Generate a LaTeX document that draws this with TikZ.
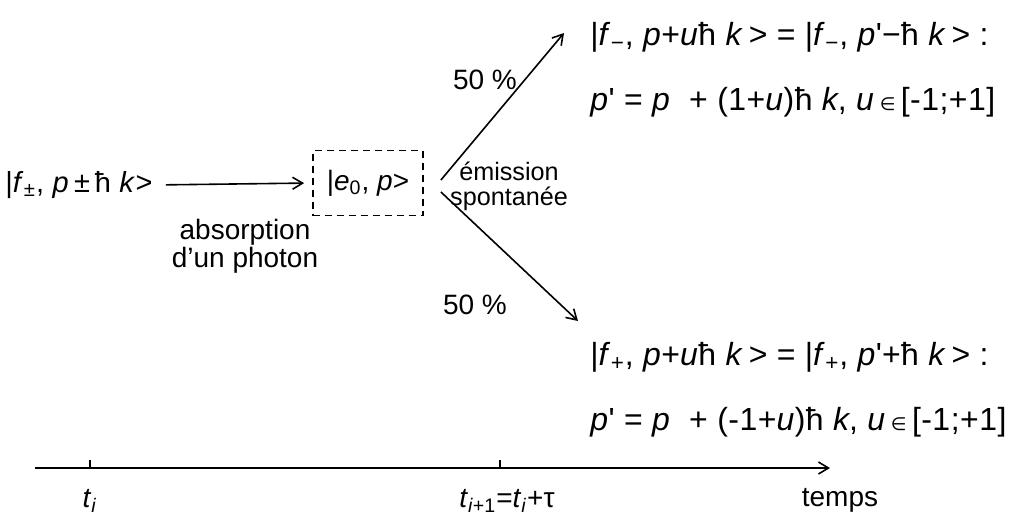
\documentclass[tikz,border=0pt]{standalone}
\usepackage{fontspec}
\setmainfont{Liberation Sans}
\newfontfamily\formfont{Liberation Sans}[LetterSpace=1.5]
\newfontfamily\symbfont{DejaVu Sans}
\usetikzlibrary{arrows.meta, positioning}
\newcommand{\vi}[1]{\textit{#1}}
\newcommand{\elem}{{\symbfont\small ∈}}
\newcommand{\prm}{\textquotesingle}

\begin{document}
\begin{tikzpicture}[
    x=0.5pt, y=-0.5pt,
    >={Straight Barb[length=5pt, width=6pt]},
    font=\fontsize{14}{14}\selectfont,
    lbl/.style={inner sep=0pt, anchor=west, font=\fontsize{16}{16}\formfont},
    note/.style={inner sep=0pt, align=center},
    link/.style={->, line width=0.8pt},
    statebox/.style={draw, dashed, dash pattern=on 3.5pt off 2.5pt, line width=0.9pt,
                     minimum width=55pt, minimum height=32.5pt, inner sep=0pt},
]
\useasboundingbox (0,0) rectangle (1016,520);

% absorption
\node[lbl, font=\fontsize{14.5}{14.5}\formfont] (init) at (5,185)
  {|\vi{f}\textsubscript{±}, \vi{p}\,±\,ħ \vi{k}>};
\node[statebox] (exc) at (368,183) {|\vi{e}\textsubscript{0}, \vi{p}>};
\draw[link, shorten <=6.5pt, shorten >=4pt] (init.east) -- (exc.west);
\node[note] (absorb) at (245,246) {absorption\\d'un photon};

% spontaneous emission, two branches
\node[note, font=\fontsize{12.6}{12.6}\selectfont] (emis) at (509,186) {émission\\spontanée};
\node[lbl] (up1) at (590,37)
  {|\vi{f}\textsubscript{−}, \vi{p}+\vi{u}ħ \vi{k}\,> = |\vi{f}\textsubscript{−}, \vi{p}\prm−ħ \vi{k}\,> :};
\node[lbl] (up2) at (590,102)
  {\vi{p}\prm{} = \vi{p}~ + (1+\vi{u})ħ \vi{k}, \vi{u}\,\elem\,[-1;+1]};
\node[lbl] (dn1) at (590,357)
  {|\vi{f}\textsubscript{+}, \vi{p}+\vi{u}ħ \vi{k}\,> = |\vi{f}\textsubscript{+}, \vi{p}\prm+ħ \vi{k}\,> :};
\node[lbl] (dn2) at (590,422)
  {\vi{p}\prm{} = \vi{p}~ + (-1+\vi{u})ħ \vi{k}, \vi{u}\,\elem\,[-1;+1]};
\node[note] (pup) at (485,80) {50 \%};
\node[note] (pdn) at (475,305) {50 \%};
\draw[link] ([xshift=8.5pt, yshift=1.5pt]exc.east) -- ([xshift=-13pt, yshift=2pt]up1.west);
\draw[link] ([xshift=8.5pt, yshift=-4.5pt]exc.east) -- ([xshift=-6pt, yshift=18pt]dn1.west);

% time axis
\coordinate (tstart) at (35,468);
\coordinate (tend) at (830,468);
\draw[link] (tstart) -- (tend);
\draw[line width=0.6pt] (90,468) -- (90,460);
\draw[line width=0.6pt] (500,468) -- (500,460);
\node[note] (ti) at (90,501) {\vi{t}\textsubscript{\vi{i}}};
\node[note] (tnext) at (507,501) {\vi{t}\textsubscript{\vi{i}+1}=\vi{t}\textsubscript{\vi{i}}+τ};
\node[note] (temps) at (840,500) {temps};

\end{tikzpicture}
\end{document}
